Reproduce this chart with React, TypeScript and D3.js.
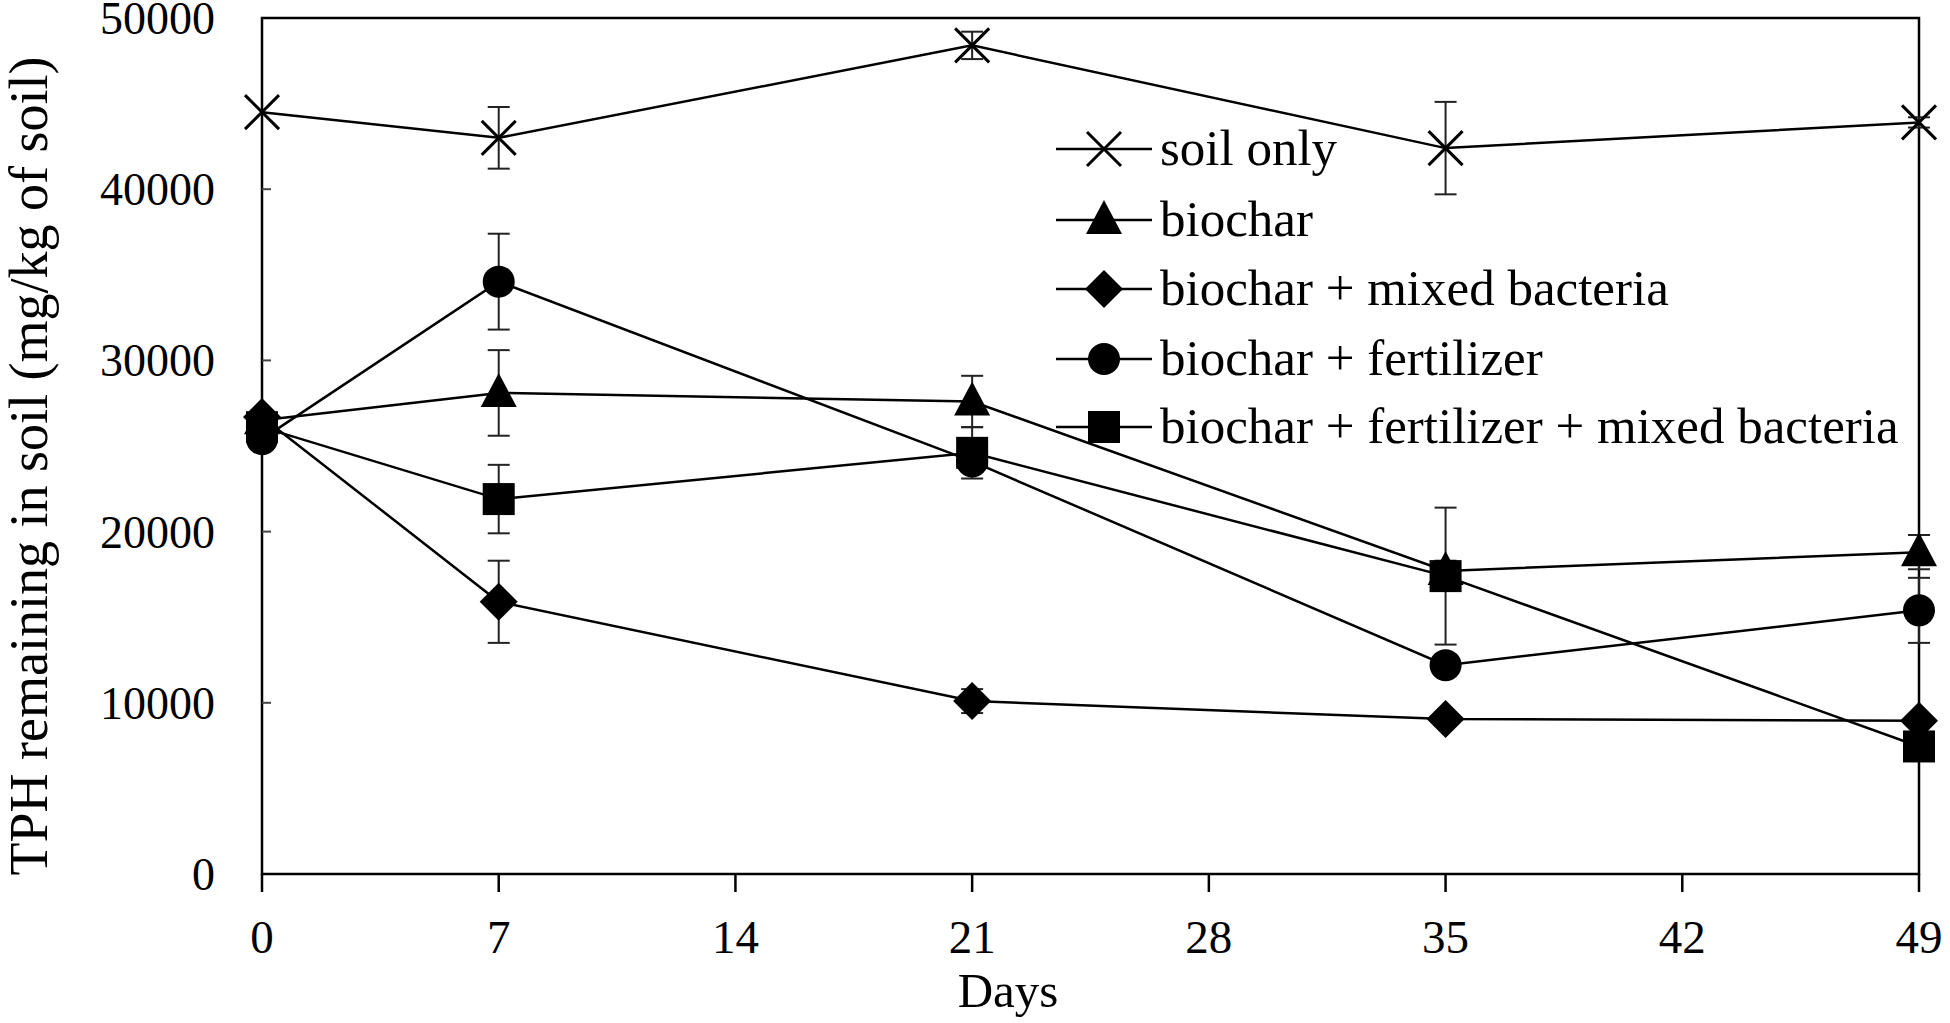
import React from "react";
import * as d3 from "d3";

const days = [0, 7, 21, 35, 49];
const xTicks = [0, 7, 14, 21, 28, 35, 42, 49];
const yTicks = [0, 10000, 20000, 30000, 40000, 50000];

const seriesNames = [
  "soil only",
  "biochar",
  "biochar + mixed bacteria",
  "biochar + fertilizer",
  "biochar + fertilizer + mixed bacteria",
];
const seriesSymbols = ["x", "triangle", "diamond", "circle", "square"];

const soilOnly = [44500, 43000, 48400, 42400, 43900];
const soilOnlyErr = [0, 1800, 800, 2700, 300];
const biochar = [26500, 28100, 27600, 17700, 18800];
const biocharErr = [0, 2500, 1500, 600, 1000];
const biocharBact = [26700, 15900, 10100, 9050, 8950];
const biocharBactErr = [0, 2400, 700, 400, 300];
const biocharFert = [25400, 34600, 24100, 12200, 15400];
const biocharFertErr = [0, 2800, 600, 500, 1900];
const biocharFertBact = [26100, 21900, 24600, 17400, 7450];
const biocharFertBactErr = [0, 2000, 1500, 4000, 500];

const seriesValues = [soilOnly, biochar, biocharBact, biocharFert, biocharFertBact];
const seriesErrors = [soilOnlyErr, biocharErr, biocharBactErr, biocharFertErr, biocharFertBactErr];

const W = 1950;
const H = 1023;
const L = 262, R = 1919, T = 18, B = 874;
const FONT = "'Liberation Serif', 'Times New Roman', serif";

function Marker({ type, x, y }: { type: string; x: number; y: number }) {
  if (type === "x") {
    const s = 17;
    return (
      <g stroke="#000" strokeWidth={3}>
        <line x1={x - s} y1={y - s} x2={x + s} y2={y + s} />
        <line x1={x - s} y1={y + s} x2={x + s} y2={y - s} />
      </g>
    );
  }
  if (type === "circle") return <circle cx={x} cy={y} r={16} fill="#000" />;
  if (type === "square") return <rect x={x - 16} y={y - 16} width={32} height={32} fill="#000" />;
  if (type === "diamond")
    return <path d={`M${x},${y - 19}L${x + 19},${y}L${x},${y + 19}L${x - 19},${y}Z`} fill="#000" />;
  return <path d={`M${x},${y - 20}L${x + 18},${y + 14}L${x - 18},${y + 14}Z`} fill="#000" />;
}

export default function App() {
  const x = d3.scaleLinear().domain([0, 49]).range([L, R]);
  const y = d3.scaleLinear().domain([0, 50000]).range([B, T]);
  const line = d3
    .line<number>()
    .x((_, i) => x(days[i]))
    .y((v) => y(v));

  const legendY = [149, 220, 289, 359, 427];

  return (
    <div style={{ position: "absolute", left: 0, top: 0 }}>
      <svg width={W} height={H} style={{ display: "block", background: "#fff" }} fontFamily={FONT}>
        <rect x={0} y={0} width={W} height={H} fill="#fff" />
        <rect x={L} y={T} width={R - L} height={B - T} fill="none" stroke="#000" strokeWidth={2.5} />
        {yTicks.slice(1, -1).map((t) => (
          <line key={"yt" + t} x1={L} x2={L + 9} y1={y(t)} y2={y(t)} stroke="#444" strokeWidth={2} />
        ))}
        {yTicks.map((t) => (
          <text key={"yl" + t} x={215} y={y(t) + 16} textAnchor="end" fontSize={46} fill="#000">
            {t}
          </text>
        ))}
        {xTicks.map((t) => (
          <g key={"xt" + t}>
            <line x1={x(t)} x2={x(t)} y1={B} y2={B + 18} stroke="#000" strokeWidth={2.5} />
            <text x={x(t)} y={953} textAnchor="middle" fontSize={47} fill="#000">
              {t}
            </text>
          </g>
        ))}
        <text x={1008} y={1007} textAnchor="middle" fontSize={49} fill="#000">
          Days
        </text>
        <text
          transform={`translate(47,466) rotate(-90)`}
          textAnchor="middle"
          fontSize={54}
          fill="#000"
        >
          TPH remaining in soil (mg/kg of soil)
        </text>

        {seriesValues.map((vals, si) =>
          vals.map((v, i) => {
            const e = seriesErrors[si][i];
            if (!e) return null;
            const cx = x(days[i]);
            return (
              <g key={`e${si}-${i}`} stroke="#222" strokeWidth={2}>
                <line x1={cx} x2={cx} y1={y(v - e)} y2={y(v + e)} />
                <line x1={cx - 11} x2={cx + 11} y1={y(v - e)} y2={y(v - e)} />
                <line x1={cx - 11} x2={cx + 11} y1={y(v + e)} y2={y(v + e)} />
              </g>
            );
          })
        )}
        {seriesValues.map((vals, si) => (
          <path key={"l" + si} d={line(vals) || ""} fill="none" stroke="#000" strokeWidth={2.5} />
        ))}
        {seriesValues.map((vals, si) =>
          vals.map((v, i) => (
            <Marker key={`m${si}-${i}`} type={seriesSymbols[si]} x={x(days[i])} y={y(v)} />
          ))
        )}

        {seriesNames.map((name, si) => (
          <g key={"lg" + si}>
            <line x1={1056} x2={1152} y1={legendY[si]} y2={legendY[si]} stroke="#000" strokeWidth={2.5} />
            <Marker type={seriesSymbols[si]} x={1104} y={legendY[si]} />
            <text x={1160} y={legendY[si] + 16} fontSize={51} fill="#000">
              {name}
            </text>
          </g>
        ))}
      </svg>
    </div>
  );
}
